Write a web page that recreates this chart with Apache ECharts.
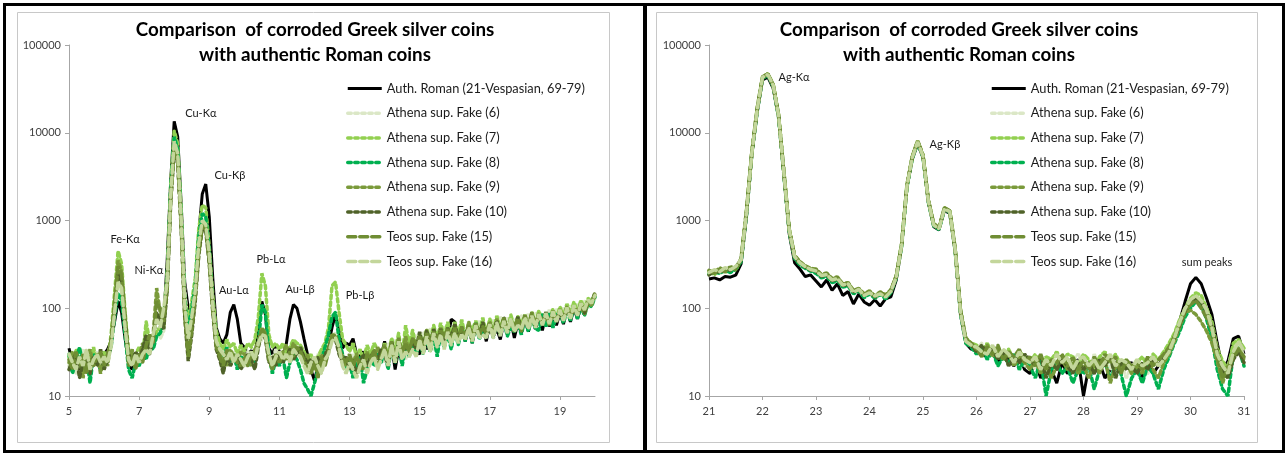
<!DOCTYPE html>
<html>
<head>
<meta charset="utf-8">
<script src="https://cdn.jsdelivr.net/npm/echarts@6.0.0/dist/echarts.min.js"></script>
<style>
    html, body { margin: 0; padding: 0; background: #fff; }
    #chart { width: 1287px; height: 457px; }
</style>
</head>
<body>
<div id="chart"></div>
<script>
// XRF spectra, counts sampled every 0.1 keV

const KEV_STEP = 0.1
const LEFT_KEV_START = 5
const RIGHT_KEV_START = 21

const seriesNames = [
    "Auth. Roman (21-Vespasian, 69-79)",
    "Athena sup. Fake (6)",
    "Athena sup. Fake (7)",
    "Athena sup. Fake (8)",
    "Athena sup. Fake (9)",
    "Athena sup. Fake (10)",
    "Teos sup. Fake (15)",
    "Teos sup. Fake (16)",
]

const xTicksLeft = [5, 7, 9, 11, 13, 15, 17, 19]
const xTicksRight = [21, 22, 23, 24, 25, 26, 27, 28, 29, 30, 31]

// ---- left panel, 5 - 20 keV ----
const leftRoman = [
    35, 24, 30, 20, 28, 26, 22, 30, 24, 28,
    30, 34, 42, 70, 120, 90, 45, 24, 20, 28,
    30, 26, 35, 38, 44, 50, 55, 70, 350, 2800,
    13500, 9000, 1500, 200, 100, 95, 180, 700, 2000, 2600,
    1100, 220, 60, 45, 40, 50, 90, 110, 75, 40,
    36, 30, 33, 28, 55, 120, 85, 35, 30, 38,
    32, 28, 40, 75, 110, 100, 70, 45, 30, 20,
    15, 22, 28, 30, 38, 60, 85, 55, 35, 40,
    38, 45, 30, 28, 32, 26, 30, 24, 34, 28,
    42, 26, 38, 20, 34, 24, 40, 30, 48, 32,
    30, 46, 34, 52, 38, 56, 40, 60, 44, 75,
    70, 45, 62, 42, 60, 40, 64, 46, 62, 42,
    66, 48, 58, 44, 70, 50, 72, 46, 68, 52,
    76, 54, 82, 58, 78, 56, 86, 62, 80, 64,
    88, 66, 94, 70, 100, 76, 104, 84, 118, 110,
    140,
]
const leftFake6 = [
    22, 30, 18, 26, 34, 20, 28, 24, 32, 22,
    26, 30, 40, 90, 200, 150, 60, 28, 30, 26,
    24, 32, 28, 36, 40, 60, 45, 55, 200, 2000,
    8000, 6000, 1200, 160, 60, 110, 160, 500, 1000, 950,
    400, 120, 45, 35, 30, 38, 28, 32, 26, 34,
    28, 32, 24, 30, 36, 45, 55, 30, 26, 34,
    30, 26, 34, 28, 36, 38, 30, 26, 22, 28,
    24, 30, 26, 34, 40, 48, 52, 38, 30, 26,
    22, 30, 26, 18, 28, 22, 32, 26, 30, 34,
    24, 40, 28, 44, 30, 38, 26, 46, 32, 50,
    36, 54, 40, 58, 34, 56, 44, 62, 42, 58,
    62, 44, 66, 48, 70, 46, 56, 72, 50, 60,
    54, 74, 58, 80, 56, 78, 62, 76, 66, 82,
    70, 86, 64, 90, 72, 84, 68, 96, 74, 98,
    80, 102, 78, 108, 86, 112, 92, 120, 100, 128,
    130,
]
const leftFake7 = [
    28, 20, 34, 24, 18, 30, 26, 36, 22, 28,
    32, 24, 50, 150, 450, 320, 90, 32, 26, 30,
    36, 28, 70, 42, 38, 55, 60, 80, 260, 2600,
    10500, 7500, 1300, 130, 70, 120, 220, 800, 1500, 1400,
    500, 140, 55, 40, 34, 44, 36, 40, 30, 38,
    32, 40, 36, 44, 80, 250, 180, 50, 36, 40,
    34, 40, 30, 36, 44, 40, 38, 32, 26, 30,
    20, 28, 34, 40, 60, 180, 200, 90, 45, 38,
    32, 40, 28, 34, 26, 38, 30, 40, 34, 28,
    40, 26, 46, 32, 52, 28, 64, 38, 56, 34,
    52, 38, 58, 42, 64, 44, 68, 46, 70, 48,
    70, 50, 74, 48, 66, 56, 72, 52, 78, 50,
    76, 54, 82, 58, 78, 56, 84, 60, 80, 66,
    84, 62, 90, 66, 94, 70, 88, 72, 98, 76,
    104, 80, 112, 86, 118, 92, 124, 96, 130, 118,
    145,
]
const leftFake8 = [
    30, 18, 26, 36, 22, 28, 14, 30, 24, 20,
    24, 28, 36, 80, 150, 120, 50, 20, 16, 24,
    22, 30, 26, 38, 34, 48, 52, 66, 220, 2300,
    9000, 6500, 1100, 120, 55, 100, 180, 650, 1200, 1100,
    450, 110, 40, 32, 26, 36, 24, 30, 20, 28,
    26, 22, 30, 24, 40, 110, 90, 30, 18, 26,
    22, 28, 16, 24, 30, 26, 20, 14, 12, 10,
    14, 20, 26, 36, 50, 80, 90, 45, 30, 20,
    24, 16, 22, 28, 14, 20, 26, 22, 30, 24,
    34, 20, 38, 24, 40, 22, 36, 28, 40, 30,
    42, 30, 46, 32, 48, 28, 54, 36, 52, 34,
    58, 38, 60, 42, 64, 40, 68, 44, 56, 46,
    66, 46, 70, 50, 72, 48, 62, 54, 68, 50,
    76, 54, 80, 58, 56, 84, 62, 88, 60, 82,
    92, 68, 98, 72, 104, 76, 108, 82, 116, 104,
    135,
]
const leftFake9 = [
    24, 32, 20, 28, 16, 26, 34, 22, 30, 18,
    28, 22, 44, 120, 350, 260, 80, 26, 34, 22,
    28, 40, 34, 44, 50, 170, 90, 60, 180, 1800,
    7000, 5200, 900, 90, 30, 60, 140, 450, 900, 850,
    380, 100, 38, 30, 26, 22, 34, 28, 24, 32,
    30, 26, 22, 34, 42, 60, 52, 28, 24, 30,
    26, 32, 38, 30, 40, 34, 28, 24, 30, 22,
    26, 18, 30, 24, 36, 50, 48, 32, 26, 22,
    28, 24, 30, 20, 26, 32, 24, 28, 36, 30,
    38, 26, 34, 24, 40, 28, 48, 30, 46, 36,
    44, 32, 56, 36, 54, 40, 60, 46, 54, 48,
    62, 46, 56, 44, 70, 46, 66, 50, 64, 54,
    70, 50, 76, 52, 74, 58, 70, 54, 72, 60,
    78, 60, 74, 64, 82, 68, 90, 64, 94, 70,
    98, 74, 106, 80, 94, 90, 104, 86, 112, 108,
    140,
]
const leftFake10 = [
    20, 26, 30, 16, 24, 32, 18, 28, 22, 34,
    20, 26, 38, 100, 250, 200, 70, 30, 24, 32,
    26, 34, 50, 30, 46, 90, 70, 58, 160, 1600,
    6000, 4500, 800, 80, 25, 50, 120, 400, 800, 760,
    320, 90, 34, 26, 18, 30, 22, 26, 28, 20,
    24, 30, 26, 20, 36, 55, 45, 24, 28, 22,
    30, 24, 28, 34, 26, 30, 36, 28, 24, 26,
    22, 28, 20, 30, 34, 46, 44, 30, 24, 28,
    20, 26, 18, 24, 30, 22, 28, 32, 26, 34,
    30, 22, 42, 26, 40, 30, 38, 32, 42, 34,
    54, 34, 56, 38, 58, 40, 58, 42, 60, 44,
    66, 46, 52, 50, 62, 44, 60, 48, 70, 46,
    62, 48, 72, 52, 78, 54, 74, 56, 80, 60,
    72, 60, 84, 62, 86, 64, 90, 68, 88, 72,
    88, 78, 94, 82, 98, 84, 114, 88, 120, 116,
    150,
]
const leftTeos15 = [
    26, 20, 32, 24, 30, 18, 26, 22, 28, 32,
    22, 30, 42, 110, 300, 240, 75, 22, 28, 20,
    30, 24, 38, 50, 40, 120, 100, 70, 170, 1700,
    6500, 4800, 850, 85, 28, 55, 130, 420, 850, 800,
    350, 95, 36, 28, 22, 34, 26, 30, 24, 22,
    28, 22, 30, 26, 38, 58, 50, 26, 20, 28,
    24, 30, 26, 32, 28, 36, 32, 26, 20, 18,
    24, 16, 28, 22, 32, 48, 50, 34, 28, 24,
    30, 22, 28, 24, 20, 30, 26, 34, 22, 28,
    36, 26, 42, 24, 46, 30, 40, 32, 46, 38,
    48, 36, 52, 40, 54, 42, 56, 48, 58, 44,
    60, 44, 62, 48, 64, 42, 68, 50, 62, 52,
    68, 50, 66, 52, 78, 56, 70, 60, 76, 54,
    84, 62, 90, 64, 86, 70, 82, 66, 88, 74,
    94, 78, 98, 84, 102, 90, 110, 94, 120, 112,
    150,
]
const leftTeos16 = [
    30, 24, 20, 28, 22, 34, 20, 26, 30, 24,
    28, 24, 36, 90, 200, 170, 60, 26, 22, 30,
    24, 30, 34, 30, 50, 75, 60, 100, 200, 1900,
    8000, 5800, 1000, 110, 45, 80, 160, 550, 1000, 900,
    420, 110, 42, 34, 30, 26, 32, 24, 30, 26,
    22, 28, 32, 26, 40, 50, 48, 30, 22, 28,
    32, 26, 30, 24, 34, 30, 28, 22, 18, 24,
    28, 22, 18, 26, 30, 42, 46, 36, 22, 18,
    24, 20, 16, 22, 26, 18, 24, 28, 20, 26,
    34, 22, 38, 24, 42, 26, 32, 28, 34, 28,
    44, 30, 48, 32, 52, 36, 50, 34, 54, 38,
    52, 40, 50, 44, 60, 42, 64, 46, 50, 46,
    66, 46, 68, 48, 72, 52, 76, 54, 64, 58,
    78, 58, 82, 60, 86, 64, 88, 66, 92, 70,
    96, 72, 102, 76, 108, 82, 114, 96, 124, 114,
    140,
]

// ---- right panel, 21 - 31 keV ----
const rightRoman = [
    215, 222, 210, 230, 226, 238, 320, 1100, 5500, 17000,
    40000, 43000, 32000, 15000, 3200, 700, 330, 280, 230, 240,
    205, 175, 210, 160, 190, 140, 155, 112, 145, 118,
    108, 125, 106, 128, 135, 210, 500, 2400, 5000, 7500,
    5200, 1600, 850, 780, 1300, 1200, 450, 85, 40, 34,
    36, 30, 28, 32, 24, 30, 26, 22, 28, 20,
    18, 24, 16, 22, 20, 14, 24, 18, 22, 26,
    10, 22, 18, 24, 16, 20, 26, 18, 22, 24,
    20, 16, 24, 18, 22, 28, 34, 50, 72, 120,
    190, 225, 190, 130, 85, 40, 20, 25, 45, 48,
    30,
]
const rightFake6 = [
    250, 270, 245, 280, 265, 290, 350, 1200, 5800, 18000,
    42000, 46000, 34000, 15500, 3400, 760, 380, 320, 290, 270,
    258, 226, 236, 200, 214, 178, 184, 150, 160, 134,
    150, 128, 148, 130, 155, 225, 520, 2450, 5200, 7800,
    5400, 1650, 880, 800, 1350, 1250, 470, 90, 42, 38,
    34, 40, 28, 36, 30, 26, 32, 24, 30, 22,
    26, 20, 28, 18, 24, 22, 28, 20, 26, 30,
    24, 18, 30, 22, 26, 20, 28, 24, 16, 22,
    26, 20, 18, 28, 24, 30, 32, 45, 60, 85,
    110, 125, 105, 80, 60, 30, 18, 22, 35, 40,
    28,
]
const rightFake7 = [
    260, 240, 275, 255, 285, 270, 360, 1250, 5900, 18500,
    43000, 47000, 35000, 16000, 3500, 780, 390, 330, 300, 275,
    270, 238, 246, 212, 222, 184, 192, 156, 166, 142,
    155, 136, 150, 140, 160, 230, 530, 2500, 5300, 8000,
    5500, 1700, 900, 820, 1380, 1280, 480, 95, 45, 40,
    38, 32, 40, 30, 36, 28, 34, 26, 32, 28,
    24, 30, 22, 28, 26, 32, 24, 30, 28, 22,
    30, 26, 20, 28, 32, 24, 30, 22, 26, 20,
    24, 28, 22, 30, 26, 32, 40, 52, 75, 100,
    130, 150, 140, 100, 70, 35, 25, 20, 40, 44,
    35,
]
const rightFake8 = [
    245, 260, 250, 270, 255, 280, 340, 1150, 5700, 17500,
    41500, 45500, 33500, 15200, 3300, 740, 370, 310, 285, 265,
    250, 222, 230, 196, 206, 174, 180, 146, 158, 132,
    146, 130, 144, 128, 152, 220, 510, 2400, 5100, 7700,
    5300, 1620, 870, 790, 1330, 1230, 460, 88, 40, 36,
    30, 36, 26, 32, 22, 28, 24, 30, 20, 26,
    22, 16, 26, 10, 20, 24, 18, 22, 14, 20,
    18, 22, 12, 20, 24, 16, 22, 18, 10, 16,
    20, 14, 22, 18, 12, 20, 28, 40, 55, 80,
    100, 120, 110, 75, 45, 20, 12, 10, 30, 35,
    22,
]
const rightFake9 = [
    270, 255, 290, 265, 300, 280, 370, 1300, 6000, 19000,
    43500, 47000, 35500, 16200, 3600, 800, 400, 340, 305, 285,
    280, 244, 252, 218, 228, 190, 196, 160, 168, 146,
    158, 138, 154, 142, 162, 235, 540, 2550, 5400, 8100,
    5600, 1720, 920, 840, 1400, 1300, 490, 98, 46, 40,
    36, 30, 38, 28, 34, 26, 30, 22, 28, 24,
    20, 26, 18, 24, 16, 22, 26, 20, 24, 18,
    22, 16, 24, 18, 26, 14, 22, 20, 24, 18,
    22, 18, 26, 20, 16, 24, 30, 42, 62, 90,
    95, 85, 70, 55, 40, 25, 14, 22, 30, 36,
    26,
]
const rightFake10 = [
    240, 265, 255, 285, 270, 295, 355, 1200, 5850, 18200,
    42500, 46500, 34500, 15800, 3450, 770, 385, 325, 295, 272,
    264, 232, 240, 206, 216, 182, 186, 154, 162, 140,
    152, 134, 150, 136, 158, 228, 525, 2480, 5250, 7900,
    5450, 1680, 890, 810, 1360, 1270, 475, 92, 43, 38,
    32, 38, 30, 34, 26, 32, 22, 28, 24, 30,
    26, 22, 28, 16, 24, 20, 26, 22, 18, 24,
    20, 24, 18, 26, 22, 28, 16, 24, 20, 22,
    18, 24, 20, 26, 22, 28, 34, 46, 64, 92,
    115, 130, 118, 90, 62, 32, 20, 16, 26, 32,
    24,
]
const rightTeos15 = [
    265, 250, 280, 260, 295, 275, 365, 1280, 5950, 18800,
    43200, 46800, 35200, 16100, 3550, 790, 395, 335, 302, 280,
    275, 240, 248, 214, 224, 188, 194, 158, 166, 144,
    156, 136, 152, 140, 160, 232, 535, 2520, 5350, 8050,
    5550, 1710, 910, 830, 1390, 1290, 485, 96, 44, 40,
    34, 28, 36, 30, 38, 26, 32, 28, 34, 24,
    28, 22, 30, 20, 26, 24, 30, 22, 28, 20,
    26, 20, 28, 22, 30, 24, 28, 18, 26, 22,
    24, 20, 28, 22, 26, 30, 36, 48, 66, 95,
    110, 122, 100, 78, 56, 28, 16, 20, 28, 34,
    28,
]
const rightTeos16 = [
    255, 275, 260, 290, 275, 300, 360, 1220, 5800, 18300,
    42800, 46200, 34800, 15900, 3480, 775, 388, 328, 298, 276,
    266, 236, 242, 210, 218, 184, 190, 152, 164, 140,
    150, 138, 146, 134, 156, 226, 522, 2470, 5230, 7880,
    5430, 1670, 885, 805, 1355, 1265, 472, 91, 42, 38,
    36, 32, 30, 38, 28, 34, 30, 24, 32, 26,
    24, 28, 20, 26, 22, 30, 24, 28, 20, 26,
    28, 22, 26, 20, 24, 30, 22, 26, 24, 20,
    26, 22, 24, 28, 22, 26, 32, 46, 70, 100,
    125, 140, 122, 95, 60, 30, 22, 18, 32, 42,
    32,
]

// peak annotations (keV, counts)
const leftPeaks = [
    { name: "Fe-Kα", kev: 6.6, counts: 615 },
    { name: "Ni-Kα", kev: 7.28, counts: 273 },
    { name: "Cu-Kα", kev: 8.76, counts: 16800 },
    { name: "Cu-Kβ", kev: 9.59, counts: 3300 },
    { name: "Au-Lα", kev: 9.7, counts: 160 },
    { name: "Pb-Lα", kev: 10.76, counts: 360 },
    { name: "Au-Lβ", kev: 11.59, counts: 165 },
    { name: "Pb-Lβ", kev: 13.3, counts: 140 },
]
const rightPeaks = [
    { name: "Ag-Kα", kev: 22.59, counts: 43200 },
    { name: "Ag-Kβ", kev: 25.41, counts: 7420 },
    { name: "sum peaks", kev: 30.31, counts: 336 },
]

const leftData = [leftRoman, leftFake6, leftFake7, leftFake8, leftFake9, leftFake10, leftTeos15, leftTeos16]
const rightData = [rightRoman, rightFake6, rightFake7, rightFake8, rightFake9, rightFake10, rightTeos15, rightTeos16]

const colors = ["#000000", "#dbe7c6", "#92d050", "#00b050", "#7a9a3a", "#4f6228", "#6f8d33", "#c3d69b"]
const lineTypes = ["solid", "dotted", "dotted", "dotted", "dotted", "dotted", [8, 4], [8, 4]]
const FONT = "Lato"

function toPairs(values, start) {
    return values.map((v, i) => [Math.round((start + i * KEV_STEP) * 10) / 10, v])
}

function peakMarks(peaks) {
    return {
        symbol: "rect",
        symbolSize: 1,
        silent: true,
        animation: false,
        itemStyle: { color: "transparent" },
        label: {
            show: true,
            position: "inside",
            formatter: "{b}",
            color: "#1a1a1a",
            fontFamily: FONT,
            fontSize: 11,
        },
        data: peaks.map(p => ({ name: p.name, coord: [p.kev, p.counts] })),
    }
}

function buildSeries(dataSet, start, idx, peaks) {
    return dataSet.map((values, i) => {
        let s = {
            name: seriesNames[i],
            type: "line",
            xAxisIndex: idx,
            yAxisIndex: idx,
            data: toPairs(values, start),
            symbol: "none",
            animation: false,
            emphasis: { disabled: true },
            itemStyle: { color: colors[i] },
            lineStyle: {
                color: colors[i],
                width: i === 0 ? 3 : 3.5,
                type: lineTypes[i],
                cap: i === 0 ? "butt" : "round",
            },
        }
        if (i === 0) s.markPoint = peakMarks(peaks)
        return s
    })
}

function xAxis(idx, min, max, ticks) {
    return {
        type: "value",
        gridIndex: idx,
        min: min,
        max: max,
        axisLine: { show: true, lineStyle: { color: "#a6a6a6" } },
        axisTick: { show: true, customValues: ticks, length: 4, lineStyle: { color: "#a6a6a6" } },
        axisLabel: { customValues: ticks, color: "#404040", fontFamily: FONT, fontSize: 11, margin: 10 },
        splitLine: { show: false },
    }
}

function yAxis(idx) {
    return {
        type: "log",
        logBase: 10,
        gridIndex: idx,
        min: 10,
        max: 100000,
        axisLine: { show: true, lineStyle: { color: "#a6a6a6" } },
        axisTick: { show: true, length: 4, lineStyle: { color: "#a6a6a6" } },
        axisLabel: {
            color: "#404040",
            fontFamily: FONT,
            fontSize: 11,
            margin: 8,
            formatter: v => String(Math.round(v)),
        },
        splitLine: { show: false },
    }
}

function title(centerX) {
    return {
        text: "Comparison  of corroded Greek silver coins\nwith authentic Roman coins",
        left: centerX,
        textAlign: "center",
        top: 12,
        textStyle: { fontFamily: FONT, fontWeight: "bold", fontSize: 18.8, lineHeight: 25, color: "#000" },
    }
}

function legend(left) {
    return {
        orient: "vertical",
        left: left,
        top: 77,
        itemWidth: 34,
        itemHeight: 14,
        itemGap: 11.7,
        data: seriesNames,
        selectedMode: false,
        itemStyle: { color: "transparent", borderWidth: 0, opacity: 0 },
        lineStyle: { width: "inherit" },
        textStyle: { fontFamily: FONT, fontSize: 12.8, color: "#1a1a1a" },
    }
}

const chart = echarts.init(document.getElementById("chart"), null, { renderer: "canvas" })

const option = {
    backgroundColor: "#ffffff",
    animation: false,
    title: [title(310), title(954)],
    legend: [legend(341), legend(985)],
    grid: [
        { left: 69, top: 45, width: 526, height: 351 },
        { left: 709, top: 45, width: 535, height: 351 },
    ],
    xAxis: [xAxis(0, 5, 20, xTicksLeft), xAxis(1, 21, 31, xTicksRight)],
    yAxis: [yAxis(0), yAxis(1)],
    graphic: [
        // chart area borders
        { type: "rect", silent: true, shape: { x: 17.5, y: 12.5, width: 592, height: 430 }, style: { fill: "transparent", stroke: "#c8c8c8", lineWidth: 1 } },
        { type: "rect", silent: true, shape: { x: 656.5, y: 12.5, width: 601, height: 430 }, style: { fill: "transparent", stroke: "#c8c8c8", lineWidth: 1 } },
        // outer frames
        { type: "rect", silent: true, shape: { x: 4.5, y: 4.5, width: 640, height: 447 }, style: { fill: "transparent", stroke: "#000", lineWidth: 3 } },
        { type: "rect", silent: true, shape: { x: 645.5, y: 4.5, width: 638, height: 447 }, style: { fill: "transparent", stroke: "#000", lineWidth: 3 } },
    ],
    series: buildSeries(leftData, LEFT_KEV_START, 0, leftPeaks).concat(buildSeries(rightData, RIGHT_KEV_START, 1, rightPeaks)),
}

chart.setOption(option)
</script>
</body>
</html>
